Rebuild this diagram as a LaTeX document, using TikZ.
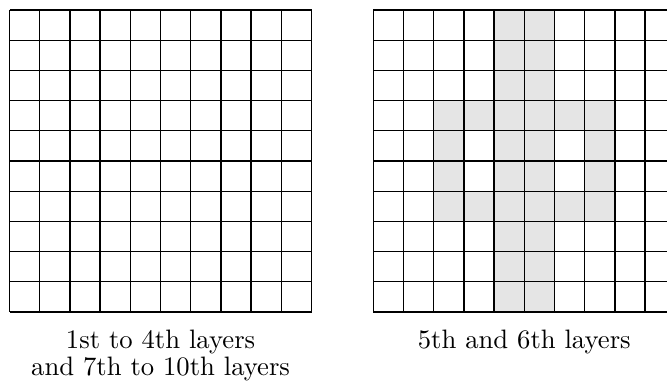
\documentclass[tikz,border=0pt]{standalone}
\begin{document}
\begin{tikzpicture}[x=0.375pt,y=-0.375pt,
  gridline/.style={line width=0.5pt,black},
  shade/.style={fill=black!10},
  caption/.style={font=\fontsize{10}{10.1}\selectfont,align=center,inner sep=0pt,anchor=base}]
\useasboundingbox (0,0) rectangle (667,385);
\clip (0,0) rectangle (667,385);
\def\cs{30.2}
% left grid
\begin{scope}[shift={(9.5,10)}]
  \foreach \i in {0,...,10}{
    \draw[gridline] (\i*\cs,0) -- (\i*\cs,10*\cs);
    \draw[gridline] (0,\i*\cs) -- (10*\cs,\i*\cs);
  }
\end{scope}
% right grid
\begin{scope}[shift={(373.3,10)}]
  \foreach \r in {0,...,9}{
    \fill[shade] (4*\cs,\r*\cs) rectangle (6*\cs,\r*\cs+\cs);
  }
  \fill[shade] (2*\cs,3*\cs) rectangle (8*\cs,4*\cs);
  \fill[shade] (2*\cs,6*\cs) rectangle (8*\cs,7*\cs);
  \fill[shade] (2*\cs,4*\cs) rectangle (3*\cs,6*\cs);
  \fill[shade] (7*\cs,4*\cs) rectangle (8*\cs,6*\cs);
  \foreach \i in {0,...,10}{
    \draw[gridline] (\i*\cs,0) -- (\i*\cs,10*\cs);
    \draw[gridline] (0,\i*\cs) -- (10*\cs,\i*\cs);
  }
\end{scope}
\node[caption] (capL) at (160.6,375) {1st to 4th layers\\and 7th to 10th layers};
\node[caption] (capR) at (524.3,348) {5th and 6th layers};
\end{tikzpicture}
\end{document}
